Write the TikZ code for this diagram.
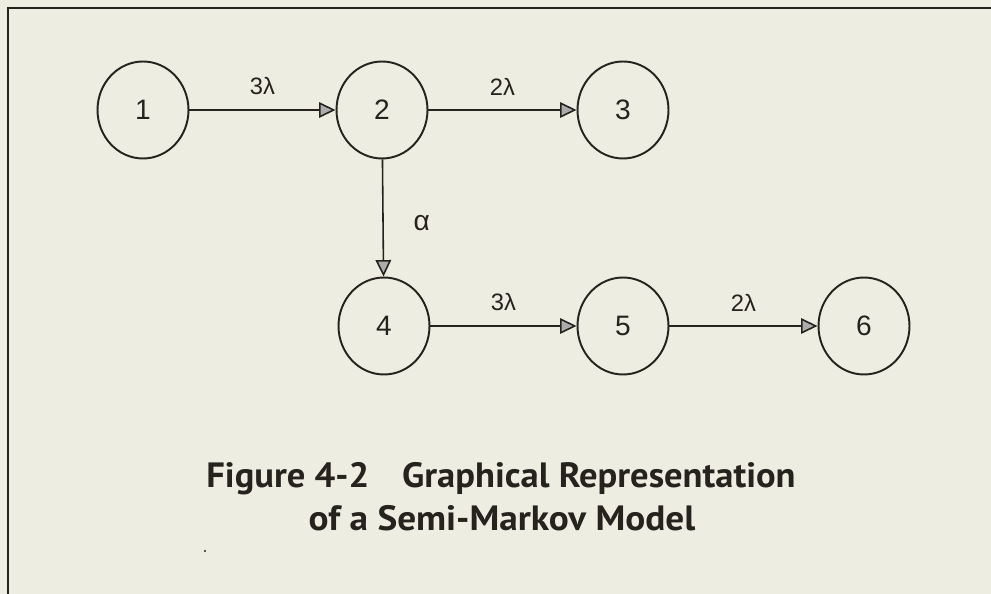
\documentclass[tikz,border=0pt]{standalone}
\usepackage{fontspec}
\setmainfont{Liberation Sans}
\newfontfamily\capfont{PT Sans}
\usetikzlibrary{shapes.geometric,arrows.meta}
\definecolor{paper}{RGB}{237,237,226}
\definecolor{ink}{RGB}{38,34,30}
\begin{document}
\begin{tikzpicture}[x=0.02cm,y=-0.02cm,
  state/.style={ellipse, draw=ink, line width=1.1pt, minimum width=1.82cm, minimum height=1.94cm, inner sep=0pt, font=\fontsize{16}{18}\selectfont, text=ink},
  trans/.style={draw=ink, line width=0.9pt, -{Triangle[length=0.33cm,width=0.31cm,fill=gray!65]}},
  lab/.style={font=\fontsize{13.5}{15}\selectfont, text=ink, inner sep=1pt},
  captext/.style={font=\capfont\bfseries\fontsize{20}{24}\selectfont, text=ink, anchor=base}]
\fill[paper] (0,0) rectangle (991,594);
\useasboundingbox (0,0) rectangle (991,594);
\draw[ink, line width=1.2pt] (991,8) -- (8,8) -- (8,594);
\node[state] (s1) at (143,110) {1};
\node[state] (s2) at (382,110) {2};
\node[state] (s3) at (623,110) {3};
\node[state] (s4) at (384,326) {4};
\node[state] (s5) at (623,326) {5};
\node[state] (s6) at (864,326) {6};
\draw[trans] (s1) -- node[lab, above=7pt] {3λ} (s2);
\draw[trans] (s2) -- node[lab, above=7pt] {2λ} (s3);
\draw[trans] (s2) -- node[lab, right=16pt, yshift=-3pt, font=\fontsize{16}{18}\selectfont] {α} (s4);
\draw[trans] (s4) -- node[lab, above=7pt] {3λ} (s5);
\draw[trans] (s5) -- node[lab, above=7pt] {2λ} (s6);
\node[captext] (c1) at (501,488) {\scalebox{1.04}[1]{Figure 4-2\hspace{0.9em}Graphical Representation}};
\node[captext] (c2) at (502,530) {\scalebox{1.06}[1]{of a Semi-Markov Model}};
\fill[ink] (205,551) circle (1.2);
\end{tikzpicture}
\end{document}
